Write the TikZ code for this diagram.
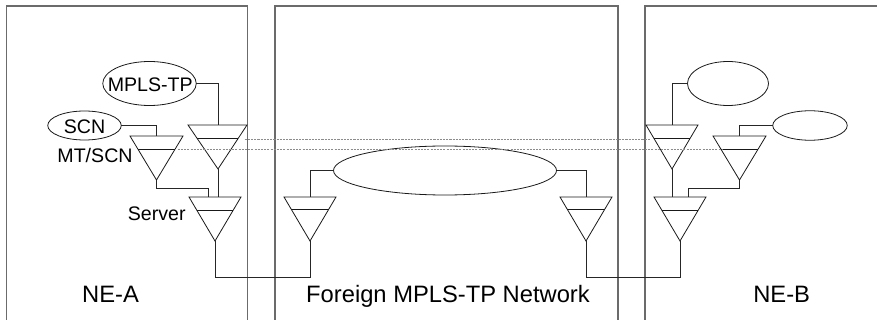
\documentclass[tikz,border=0pt]{standalone}
\usepackage{fontspec}
\setmainfont{Liberation Sans}
\usetikzlibrary{shapes.geometric,calc}
\definecolor{boxgray}{gray}{0.42}
\definecolor{dashgray}{gray}{0.55}
\tikzset{
  boxline/.style={draw=boxgray,line width=0.8pt},
  wire/.style={draw=black!85,line width=0.72pt},
  triline/.style={draw=black!90,line width=0.6pt},
  oval/.style={draw=black!90,line width=0.6pt,ellipse,inner sep=0pt,outer sep=0pt},
  link/.style={draw=dashgray,line width=0.4pt,dash pattern=on 1.6pt off 0.8pt},
  big/.style={anchor=base,inner sep=0pt,font=\fontsize{17.8pt}{20pt}\selectfont},
  small/.style={anchor=base,inner sep=0pt,font=\fontsize{14.7pt}{17pt}\selectfont}
}
% name, x left, x right, x apex, y top, y bar, y apex
\newcommand{\adapter}[7]{%
  \coordinate (#1-l) at (#2,#5);
  \coordinate (#1-r) at (#3,#5);
  \coordinate (#1-a) at (#4,#7);
  \coordinate (#1-t) at (#4,#5);
  \draw[triline,line join=miter] (#1-l) -- (#1-r) -- (#1-a) -- cycle;
  \draw[triline] ($(#1-l)!{(#6-#5)/(#7-#5)}!(#1-a)$) -- ($(#1-r)!{(#6-#5)/(#7-#5)}!(#1-a)$);
}
\begin{document}
\begin{tikzpicture}[x=0.75pt,y=-0.75pt]
\useasboundingbox (0,0) rectangle (877,320);
\clip (0,0) rectangle (877,320);
% enclosures
\draw[boxline] (6.5,330) -- (6.5,6) -- (247.5,6) -- (247.5,330);
\draw[boxline] (275,330) -- (275,6) -- (618,6) -- (618,330);
\draw[boxline] (645,330) -- (645,6) -- (880,6);
% ovals
\node[oval,minimum width=93.5*0.75pt,minimum height=44*0.75pt] (ea1) at (149.5,83.5) {};
\node[oval,minimum width=73.5*0.75pt,minimum height=29*0.75pt] (ea2) at (84.5,125.5) {};
\node[oval,minimum width=223*0.75pt,minimum height=49*0.75pt] (em) at (445,170.5) {};
\node[oval,minimum width=81*0.75pt,minimum height=44*0.75pt] (eb1) at (728,83.5) {};
\node[oval,minimum width=74.5*0.75pt,minimum height=29.5*0.75pt] (eb2) at (810,125.5) {};
% adapters
\adapter{ta1}{188}{247}{218}{125}{138}{169}
\adapter{ta2}{130}{183}{156.5}{136}{149}{180}
\adapter{tas}{189}{241}{215}{197}{210}{241}
\adapter{tml}{284}{336}{310}{197}{209.5}{241}
\adapter{tmr}{560}{612}{586}{197}{209.5}{241}
\adapter{tb1}{646}{698}{672}{125}{138}{169}
\adapter{tb2}{713}{766}{739.5}{136}{149}{180}
\adapter{tbs}{654}{706}{680}{197}{210}{241}
\coordinate (tas-j) at (208,197);
\coordinate (tbs-j) at (688,197);
\coordinate (ta1-j) at (218,197);
\coordinate (tb1-j) at (672,197);
% connectors
\draw[wire] (ea1.east) -| (ta1-t);
\draw[wire] (ea2.east) -| (ta2-t);
\draw[wire] (ta2-a) |- ($(ta2-a)!0.5!(ta2-a |- tas-j)$) -| (tas-j);
\draw[wire] (ta1-a) -- (ta1-j);
\draw[wire] (tas-a) -- ++(0,36) -| (tml-a);
\draw[wire] (em.west) -| (tml-t);
\draw[wire] (em.east) -| (tmr-t);
\draw[wire] (tmr-a) -- ++(0,36) -| (tbs-a);
\draw[wire] (eb1.west) -| (tb1-t);
\draw[wire] (eb2.west) -| (tb2-t);
\draw[wire] (tb2-a) |- ($(tb2-a)!0.5!(tb2-a |- tbs-j)$) -| (tbs-j);
\draw[wire] (tb1-a) -- (tb1-j);
% transport links
\draw[link] ($(ta1-l)!0.96!(ta1-r)+(0,14.5)$) -- ($(tb1-l)!0.08!(tb1-r)+(0,14.5)$);
\draw[link] ($(ta2-l)!0.9!(ta2-r)+(0,13.7)$) -- ($(tb2-l)!0.19!(tb2-r)+(0,13.7)$);
% labels
\node[small] (lmp) at (150.3,91.7) {MPLS-TP};
\node[small] (lsc) at (84.5,134) {SCN};
\node[small] (lmt) at (95,163) {MT/SCN};
\node[small] (lsv) at (156.7,220) {Server};
\node[big] (lna) at (110.5,302) {NE-A};
\node[big] (lfo) at (448,302) {Foreign MPLS-TP Network};
\node[big] (lnb) at (781.7,302) {NE-B};
\end{tikzpicture}
\end{document}
